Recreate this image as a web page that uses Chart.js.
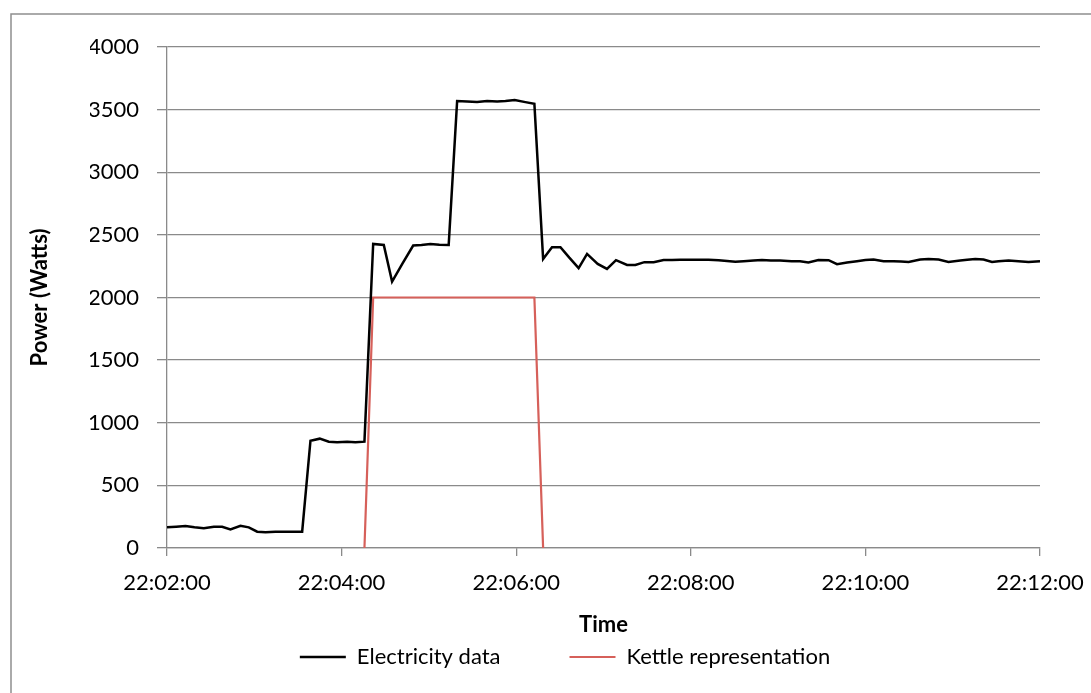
<!DOCTYPE html>
<html>
<head>
<meta charset="utf-8">
<script src="https://cdn.jsdelivr.net/npm/chart.js@4.4.1/dist/chart.umd.min.js"></script>
<style>
  html, body { margin: 0; padding: 0; background: #ffffff; }
  #c { display: block; }
</style>
</head>
<body>
<canvas id="c" width="1091" height="693"></canvas>
<script>
// Seconds after 22:02:00 for each electricity reading
const elecTimes = [
  0, 6.3, 12.7, 18.9, 25.3, 32.2, 37.9, 43.6, 50.5, 56.2,
  62, 67.7, 74.5, 80.2, 86, 92.9, 98.6, 105, 111.2, 116.9,
  123.8, 129.5, 135.7, 141.7, 149, 154.7, 161.8, 169.2, 174.9, 181,
  187.2, 193.6, 199.4, 206.3, 213.1, 220, 226.9, 232.6, 239, 246.3,
  252.5, 258.5, 264.6, 270.4, 276.5, 282.9, 288.7, 296, 302.4, 308.6,
  316.2, 321.9, 328.1, 334.5, 341.3, 347.1, 352.8, 359.7, 366.5, 372.2,
  379.1, 384.9, 390.6, 396.3, 403.2, 408.9, 415, 421.3, 429.3, 435.1,
  440.8, 447.7, 454.7, 460.5, 467.4, 474.2, 480, 485.6, 492.5, 499.3, 504.5,
  509.7, 517.7, 523.4, 530.3, 537.1, 545.2, 550, 555.5, 561.2, 567,
  571.5, 578.4, 585.2, 592.1, 600
];
// Electricity data (Watts)
const elecWatts = [
  165, 170, 176, 165, 157, 170, 170, 149, 178, 165,
  130, 125, 130, 130, 130, 130, 857, 873, 849, 844,
  849, 844, 849, 2428, 2420, 2127, 2270, 2415, 2420, 2428,
  2422, 2420, 3568, 3565, 3560, 3568, 3565, 3568, 3576, 3560,
  3546, 2308, 2402, 2402, 2318, 2234, 2348, 2268, 2228, 2298,
  2260, 2260, 2282, 2282, 2300, 2300, 2302, 2302, 2302, 2302,
  2298, 2292, 2286, 2290, 2295, 2300, 2295, 2295, 2290, 2290,
  2279, 2300, 2298, 2266, 2279, 2290, 2300, 2303, 2290, 2290, 2288,
  2284, 2303, 2308, 2303, 2284, 2295, 2302, 2308, 2303, 2284,
  2290, 2295, 2290, 2284, 2290
];
// Kettle representation
const kettleTimes = [135.7, 141.7, 252.5, 258.5];
const kettleWatts = [0, 2000, 2000, 0];

const seriesNames = ['Electricity data', 'Kettle representation'];
const xTickLabels = ['22:02:00', '22:04:00', '22:06:00', '22:08:00', '22:10:00', '22:12:00'];
const yTickLabels = ['0', '500', '1000', '1500', '2000', '2500', '3000', '3500', '4000'];
const xTitle = 'Time';
const yTitle = 'Power (Watts)';

const elecData = elecTimes.map((t, i) => ({ x: t, y: elecWatts[i] }));
const kettleData = kettleTimes.map((t, i) => ({ x: t, y: kettleWatts[i] }));

Chart.defaults.font.family = 'Lato, "Open Sans", sans-serif';
Chart.defaults.font.size = 22;
Chart.defaults.color = '#000000';

const frame = {
  id: 'frame',
  beforeDraw(chart) {
    const ctx = chart.ctx;
    ctx.save();
    ctx.strokeStyle = '#8f8f8f';
    ctx.lineWidth = 1.5;
    ctx.beginPath();
    ctx.moveTo(11, 693);
    ctx.lineTo(11, 14);
    ctx.lineTo(1091, 14);
    ctx.stroke();
    ctx.restore();
  }
};

const gridGray = '#8a8a8a';

new Chart(document.getElementById('c'), {
  type: 'line',
  data: {
    datasets: [
      {
        label: seriesNames[0],
        data: elecData,
        borderColor: '#000000',
        backgroundColor: '#000000',
        borderWidth: 2.5,
        pointRadius: 0,
        pointStyle: 'line',
        tension: 0,
        fill: false
      },
      {
        label: seriesNames[1],
        data: kettleData,
        borderColor: '#d6605a',
        backgroundColor: '#d6605a',
        borderWidth: 2.2,
        pointRadius: 0,
        pointStyle: 'line',
        tension: 0,
        fill: false
      }
    ]
  },
  options: {
    responsive: false,
    animation: false,
    events: [],
    layout: { padding: { left: 90, right: 51, top: 47, bottom: 15 } },
    plugins: {
      tooltip: { enabled: false },
      legend: {
        position: 'bottom',
        title: {
          display: true,
          text: '',
          font: { size: 10 },
          padding: { top: -17.5, bottom: -17.5 }
        },
        labels: {
          usePointStyle: true,
          pointStyle: 'line',
          pointStyleWidth: 46,
          boxWidth: 46,
          boxHeight: 22,
          padding: 69,
          color: '#000000',
          font: { size: 22 }
        }
      }
    },
    scales: {
      x: {
        type: 'linear',
        min: 0,
        max: 600,
        afterFit(scale) {
          scale.height = 52;
          scale.paddingLeft = 0;
          scale.paddingRight = 0;
        },
        ticks: {
          stepSize: 120,
          padding: 14,
          maxRotation: 0,
          autoSkip: false,
          color: '#000000',
          callback: (v, i) => xTickLabels[i]
        },
        grid: {
          drawOnChartArea: false,
          color: gridGray,
          lineWidth: 1.3,
          tickLength: 8
        },
        border: { color: gridGray, width: 1.3 },
        title: {
          display: true,
          text: xTitle,
          color: '#000000',
          font: { size: 22, weight: 'bold' },
          padding: { top: 0, bottom: -38.2 }
        }
      },
      y: {
        min: 0,
        max: 4000,
        afterFit(scale) {
          scale.width = 77;
          scale.paddingTop = 0;
          scale.paddingBottom = 0;
        },
        ticks: {
          stepSize: 500,
          padding: 18,
          color: '#000000',
          callback: (v, i) => yTickLabels[i]
        },
        grid: {
          color: gridGray,
          lineWidth: 1.3,
          tickLength: 10
        },
        border: { color: gridGray, width: 1.3 },
        title: {
          display: true,
          text: yTitle,
          color: '#000000',
          font: { size: 22, weight: 'bold' },
          padding: { top: -63, bottom: 0 }
        }
      }
    }
  },
  plugins: [frame]
});
</script>
</body>
</html>
